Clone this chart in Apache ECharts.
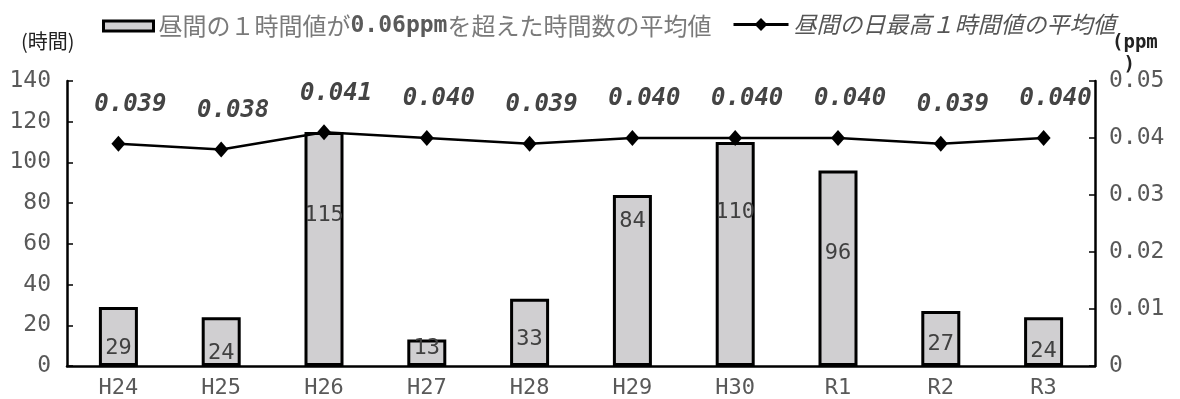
<!DOCTYPE html>
<html>
<head>
<meta charset="utf-8">
<style>
  html, body { margin: 0; padding: 0; background: #ffffff; }
  #chart { width: 1180px; height: 399px; }
</style>
<script src="https://cdn.jsdelivr.net/npm/echarts@6/dist/echarts.min.js"></script>
</head>
<body>
<div id="chart"></div>
<script>
// Fiscal years on the category axis
const years = ['H24', 'H25', 'H26', 'H27', 'H28', 'H29', 'H30', 'R1', 'R2', 'R3'];
// Average number of daytime hours above 0.06 ppm (left axis, hours)
const hoursOver = [29, 24, 115, 13, 33, 84, 110, 96, 27, 24];
// Average of the daily daytime maximum 1-hour value (right axis, ppm)
const dailyMax = [0.039, 0.038, 0.041, 0.040, 0.039, 0.040, 0.040, 0.040, 0.039, 0.040];
// Tick labels of the right axis
const ppmTicks = ['0', '0.01', '0.02', '0.03', '0.04', '0.05'];

const barName = '昼間の１時間値が0.06ppmを超えた時間数の平均値';
const lineName = '昼間の日最高１時間値の平均値';

// Where each bar's value label sits inside its bar: [position, distance]
const barLabelSpots = [
  ['insideBottom', 7], ['insideBottom', 2], ['insideTop', 72], ['insideBottom', 7],
  ['insideTop', 29], ['insideTop', 15], ['insideTop', 59], ['insideTop', 72],
  ['insideBottom', 11], ['insideBottom', 4]
];

const mono = '"DejaVu Sans Mono", "Liberation Mono", monospace';
const cjk = '"Noto Sans CJK JP", "Noto Sans", sans-serif';

const chart = echarts.init(document.getElementById('chart'), null, { renderer: 'canvas' });

const barData = hoursOver.map((v, i) => ({
  value: v,
  label: { position: barLabelSpots[i][0], distance: barLabelSpots[i][1] }
}));

chart.setOption({
  animation: false,
  backgroundColor: '#ffffff',
  grid: { left: 67, right: 85, top: 81, bottom: 29, containLabel: false },
  legend: [
    {
      data: [{ name: barName, icon: 'rect' }],
      left: 97, top: 9,
      itemWidth: 50, itemHeight: 10, itemGap: 5,
      itemStyle: { borderWidth: 3, borderColor: '#000000' },
      formatter: () => '昼間の１時間値が{m|0.06ppm}を超えた時間数の平均値',
      textStyle: {
        fontFamily: cjk, fontSize: 24, color: '#7a7a7a',
        rich: { m: { fontFamily: mono, fontSize: 23, fontWeight: 'bold', color: '#5a5a5a' } }
      }
    },
    {
      data: [lineName],
      left: 727, top: 8,
      itemWidth: 55, itemHeight: 16, itemGap: 3,
      lineStyle: { width: 3, color: '#000000' },
      textStyle: { fontFamily: cjk, fontSize: 23, fontStyle: 'italic', color: '#555555' }
    }
  ],
  graphic: [
    { type: 'text', left: 21, top: 31, style: { text: '(時間)', font: '20px ' + cjk, fill: '#222222' } },
    { type: 'text', left: 1112, top: 32, style: { text: '(ppm\n )', font: 'bold 19px ' + mono, fill: '#222222', lineHeight: 22 } }
  ],
  xAxis: {
    type: 'category',
    data: years,
    axisLine: { lineStyle: { color: '#000000', width: 2.5 } },
    axisTick: { inside: true, length: 5, alignWithLabel: false, lineStyle: { color: '#000000', width: 1.5 } },
    axisLabel: { fontFamily: mono, fontSize: 22, color: '#595959', margin: 11 }
  },
  yAxis: [
    {
      type: 'value', min: 0, max: 140, interval: 20,
      axisLine: { show: true, lineStyle: { color: '#000000', width: 2.5 } },
      axisTick: { show: true, inside: true, length: 6, lineStyle: { color: '#000000', width: 1.5 } },
      axisLabel: { fontFamily: mono, fontSize: 23, color: '#595959', margin: 16 },
      splitLine: { show: false }
    },
    {
      type: 'value', min: 0, max: 0.05, interval: 0.01,
      axisLine: { show: true, lineStyle: { color: '#000000', width: 2.5 } },
      axisTick: { show: true, inside: true, length: 6, lineStyle: { color: '#000000', width: 1.5 } },
      axisLabel: {
        fontFamily: mono, fontSize: 23, color: '#595959', margin: 14,
        formatter: (v) => ppmTicks[Math.round(v * 100)]
      },
      splitLine: { show: false }
    }
  ],
  series: [
    {
      name: barName,
      type: 'bar',
      yAxisIndex: 0,
      data: barData,
      barWidth: 39,
      itemStyle: { color: '#d0cfd1', borderColor: '#000000', borderWidth: 3 },
      label: { show: true, fontFamily: mono, fontSize: 22, color: '#404040' },
      z: 2
    },
    {
      name: lineName,
      type: 'line',
      yAxisIndex: 1,
      data: dailyMax,
      symbol: 'diamond',
      symbolSize: [14, 16],
      lineStyle: { color: '#000000', width: 2.5 },
      itemStyle: { color: '#000000' },
      label: {
        show: true, position: 'top', distance: 19, offset: [12, 0],
        fontFamily: mono, fontSize: 24, fontStyle: 'italic', fontWeight: 'bold', color: '#444444',
        formatter: (p) => p.value.toFixed(3)
      },
      z: 3
    }
  ]
});
</script>
</body>
</html>
